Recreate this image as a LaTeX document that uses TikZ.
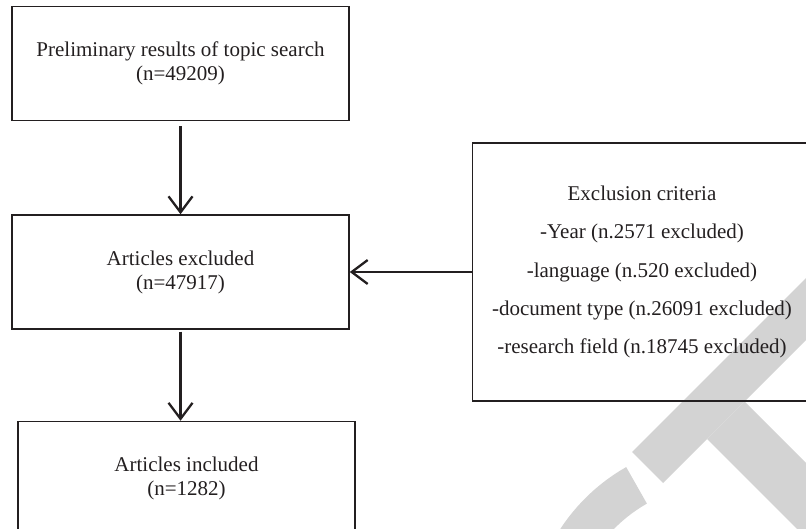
\documentclass[tikz,border=0pt]{standalone}
\usepackage{fontspec}
\setmainfont{Liberation Serif}
\usetikzlibrary{positioning, arrows.meta}
\definecolor{ink}{HTML}{231F20}
\definecolor{wmgray}{HTML}{D3D3D3}

\begin{document}
\begin{tikzpicture}
  [
    x=1pt, y=-1pt,
    stage/.style={draw=ink, text=ink, line width=1.5pt, align=center,
      minimum width=337pt, minimum height=114pt,
      font=\fontsize{21}{24}\selectfont},
    criteria/.style={stage, minimum width=339pt, minimum height=258pt,
      font=\fontsize{21}{38.2}\selectfont},
    flow/.style={draw=ink, line width=2.3pt,
      -{Straight Barb[length=16pt,width=24pt]}}
  ]
  \useasboundingbox (0,0) rectangle (806,529);
  \clip (0,0) rectangle (806,529);
  \fill[wmgray] (632,452) -- (663,483) -- (840,306) -- (840,244) -- cycle;
  \fill[wmgray] (707,439) -- (744.5,401.5) -- (903,560) -- (828,560) -- cycle;
  \fill[wmgray] plot[domain=240.4:150, samples=40] ({721+192*cos(\x)}, {634+192*sin(\x)})
    -- plot[domain=150:240.4, samples=40] ({721+150*cos(\x)}, {634+150*sin(\x)}) -- cycle;

  \node[stage] (search) at (180.5,63.5) {Preliminary results of topic search\\(n=49209)};
  \node[stage, below=93pt of search] (excluded) {Articles excluded\\(n=47917)};
  \node[stage, below=91pt of excluded, xshift=6pt] (included) {Articles included\\(n=1282)};
  \node[criteria, right=122pt of excluded] (criteria)
    {Exclusion criteria\\-Year (n.2571 excluded)\\-language (n.520 excluded)\\
     -document type (n.26091 excluded)\\-research field (n.18745 excluded)};

  \draw[flow, shorten <=5pt] (search) -- (excluded);
  \draw[flow, shorten <=2pt] (excluded.south) -- (excluded.south |- included.north);
  \draw[flow] (criteria) -- (excluded);
\end{tikzpicture}
\end{document}
